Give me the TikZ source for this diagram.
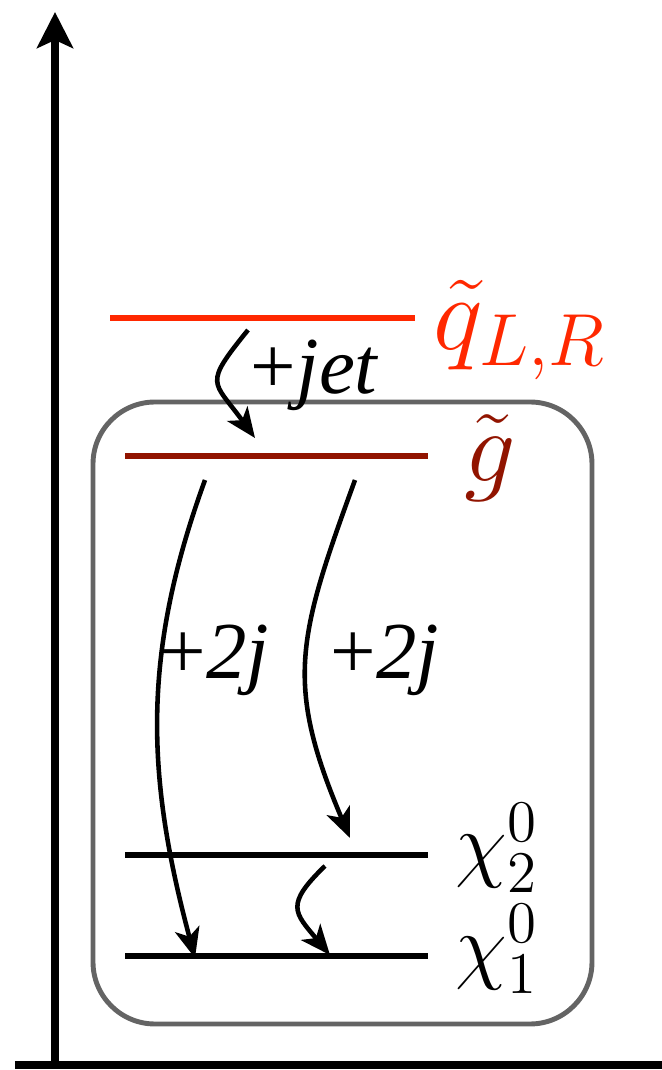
\RequirePackage{fix-cm}
\documentclass[tikz,border=0pt]{standalone}
\usepackage{amsmath, amssymb}
\usepackage{fontspec}
\usepackage{tikz}
\usepackage{xcolor}
\usetikzlibrary{arrows.meta}

\newfontfamily\decayfont{Liberation Serif}
\definecolor{squarkred}{RGB}{255,40,0}
\definecolor{gluinored}{RGB}{145,20,0}
\definecolor{boxgray}{RGB}{100,100,100}

\begin{document}
\begin{tikzpicture}[scale=1.0,
    level/.style={line width=1.75pt},
    decay/.style={line width=1.3pt, -{Stealth[length=3mm,width=2.5mm,inset=0.8mm]}},
    lvllabel/.style={anchor=base west, inner sep=0pt, font=\fontsize{24}{28}\selectfont},
    declabel/.style={inner sep=0pt, font=\fontsize{23}{27}\decayfont}]
  \useasboundingbox (0,0) rectangle (6.62,10.7);
  % === Akser ===
  \coordinate (origo) at (0.55,0.05);
  \coordinate (ytop) at (0.55,10.58);
  \coordinate (xleft) at (0.15,0.05);
  \coordinate (xright) at (6.8,0.05);
  \draw[line width=2.3pt] (xleft) -- (xright);
  \draw[line width=2.3pt, -{Stealth[length=3.6mm,width=3.6mm,inset=0.8mm]}] (origo) -- (ytop);
  % === Boks rundt gluino og nøytralinoer ===
  \draw[boxgray, line width=1.4pt, rounded corners=0.62cm] (0.93,0.46) rectangle (5.92,6.68);
  % === Nivåer ===
  \coordinate (sqL) at (1.10,7.52);
  \coordinate (sqR) at (4.15,7.52);
  \draw[level, squarkred] (sqL) -- (sqR);
  \node[lvllabel, squarkred, font=\fontsize{30}{34}\selectfont] (sq) at (4.33,7.20) {$\tilde{q}_{L,R}$};
  \coordinate (glL) at (1.25,6.14);
  \coordinate (glR) at (4.28,6.14);
  \draw[level, gluinored] (glL) -- (glR);
  \node[lvllabel, gluinored, font=\fontsize{29}{33}\selectfont] (gl) at (4.64,5.88) {$\tilde{g}$};
  \coordinate (ntwoL) at (1.25,2.15);
  \coordinate (ntwoR) at (4.28,2.15);
  \draw[level] (ntwoL) -- (ntwoR);
  \node[lvllabel] (ntwo) at (4.55,1.98) {$\chi_2^0$};
  \coordinate (noneL) at (1.25,1.14);
  \coordinate (noneR) at (4.28,1.14);
  \draw[level] (noneL) -- (noneR);
  \node[lvllabel] (none) at (4.55,0.97) {$\chi_1^0$};
  % === Henfall ===
  % squark -> gluino + jet
  \coordinate (jetA) at (2.48,7.40);
  \coordinate (jetB) at (2.55,6.32);
  \draw[decay] (jetA) to[out=231, in=126, looseness=1.7] (jetB);
  \node[declabel] (jet) at (3.15,6.95) {+\textit{jet}};
  % gluino -> chi1 + 2j
  \coordinate (gtoneA) at (2.05,5.90);
  \coordinate (gtoneB) at (1.95,1.12);
  \draw[decay] (gtoneA) to[out=250, in=105] (gtoneB);
  \node[declabel] (twojA) at (2.15,4.10) {+\textit{2j}};
  % gluino -> chi2 + 2j
  \coordinate (gttwoA) at (3.55,5.90);
  \coordinate (gttwoB) at (3.50,2.32);
  \draw[decay] (gttwoA) to[out=250, in=113, looseness=1.2] (gttwoB);
  \node[declabel] (twojB) at (3.85,4.10) {+\textit{2j}};
  % chi2 -> chi1
  \coordinate (ntoA) at (3.25,2.04);
  \coordinate (ntoB) at (3.30,1.15);
  \draw[decay] (ntoA) to[out=224, in=130, looseness=1.6] (ntoB);
\end{tikzpicture}
\end{document}
